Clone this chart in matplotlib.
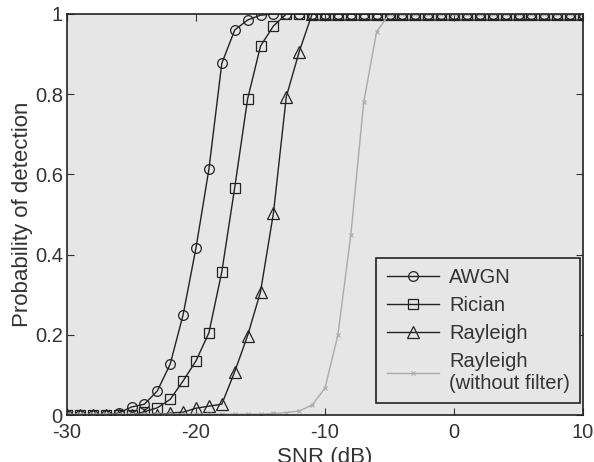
import numpy as np
import matplotlib
matplotlib.use("Agg")
import matplotlib.pyplot as plt

plt.rcParams['font.family'] = ['Liberation Sans', 'DejaVu Sans']
plt.rcParams['axes.unicode_minus'] = False

# SNR grid (dB)
snr = np.arange(-30, 11, 1)

# detection probabilities, -30 ... 10 dB
awgn = [0, 0, 0, 0, 0.005, 0.02, 0.027, 0.06, 0.127, 0.25,
        0.417, 0.613, 0.877, 0.96, 0.985, 0.997] + [1.0] * 25
rician = [0, 0, 0, 0, 0, 0, 0.008, 0.018, 0.039, 0.085,
          0.135, 0.205, 0.357, 0.567, 0.788, 0.92, 0.97] + [1.0] * 24
rayleigh = [0, 0, 0, 0, 0, 0, 0, 0, 0.005, 0.007,
            0.017, 0.022, 0.027, 0.108, 0.198, 0.307, 0.503, 0.794, 0.906] + [1.0] * 22
rayleigh_nf = [0.002] * 16 + [0.004, 0.006, 0.01, 0.025, 0.067,
                              0.2, 0.449, 0.78, 0.956] + [1.0] * 16

fig = plt.figure(figsize=(5.94, 4.62), dpi=100)
ax = fig.add_axes([0.1128, 0.1017, 0.8687, 0.868])
ax.set_facecolor('#e6e6e6')

dark = '#222222'
ax.plot(snr, awgn, '-o', color=dark, lw=1, ms=7, mfc='none', mew=0.9, label='AWGN')
ax.plot(snr, rician, '-s', color=dark, lw=1, ms=7, mfc='none', mew=0.9, label='Rician')
ax.plot(snr, rayleigh, '-^', color=dark, lw=1, ms=8, mfc='none', mew=0.9, label='Rayleigh')
ax.plot(snr, rayleigh_nf, '-x', color='#aaaaaa', lw=1, ms=3, mew=0.8,
        label='Rayleigh\n(without filter)')

ax.set_xlim(-30, 10)
ax.set_ylim(0, 1)
ax.set_xticks([-30, -20, -10, 0, 10])
ax.set_yticks([0, 0.2, 0.4, 0.6, 0.8, 1])
ax.set_yticklabels(['0', '0.2', '0.4', '0.6', '0.8', '1'])
ax.tick_params(direction='in', top=True, right=True, labelsize=14.5, length=5,
               width=0.8, colors='#333333')
ax.tick_params(axis='x', pad=6)
ax.tick_params(axis='y', pad=3)
for s in ax.spines.values():
    s.set_linewidth(1.2)
    s.set_color(dark)

ax.set_xlabel('SNR (dB)', fontsize=16, color='#333333', labelpad=3)
ax.set_ylabel('Probability of detection', fontsize=16, color='#333333', labelpad=1)

leg = ax.legend(loc='lower right', bbox_to_anchor=(0.994, 0.03), borderaxespad=0,
                fontsize=14.5, handlelength=2.6, handletextpad=0.5,
                borderpad=0.5, labelspacing=0.45, fancybox=False, framealpha=1,
                facecolor='#e6e6e6', edgecolor=dark)
leg.get_frame().set_linewidth(1.2)
for t in leg.get_texts():
    t.set_color('#333333')

fig.savefig('out.png', dpi=100)
